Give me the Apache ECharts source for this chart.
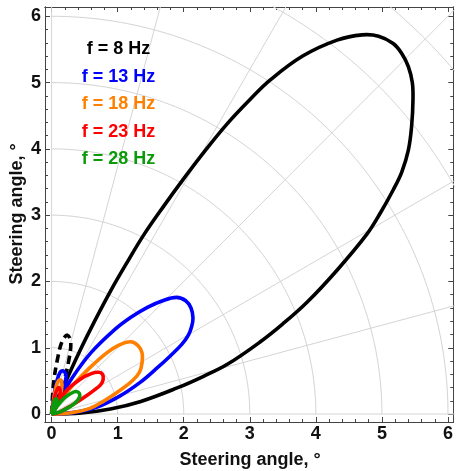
<!DOCTYPE html>
<html><head><meta charset="utf-8">
<script src="https://cdn.jsdelivr.net/npm/echarts@6/dist/echarts.min.js"></script>
<style>html,body{margin:0;padding:0;background:#fff}#c{width:456px;height:471px}</style>
</head><body><div id="c"></div>
<script>
// ---- data ----
const xTickValues = [0, 1, 2, 3, 4, 5, 6];
const yTickValues = [0, 1, 2, 3, 4, 5, 6];
const axisTitle = 'Steering angle, °';
const legendLabels = ['f = 8 Hz', 'f = 13 Hz', 'f = 18 Hz', 'f = 23 Hz', 'f = 28 Hz'];
const seriesColors = ['#000000', '#0000ff', '#ff8000', '#ff0000', '#0a9a0a'];
const gridRadii = [1, 2, 3, 4, 5, 6, 7, 8, 9];
const gridAnglesDeg = [0, 15, 30, 45, 60, 75, 90];

const f8Main = [[0,0],[0.12,0.27],[0.25,0.57],[0.45,1.0],[0.64,1.38],[0.9,1.87],[1.15,2.3],[1.40,2.71],[1.7,3.14],[2.0,3.55],[2.33,3.98],[2.66,4.38],[3.0,4.74],[3.31,5.04],[3.8,5.40],[4.32,5.64],[4.70,5.72],[4.95,5.70],[5.17,5.59],[5.30,5.44],[5.40,5.24],[5.46,5.0],[5.47,4.74],[5.45,4.35],[5.40,3.98],[5.30,3.65],[5.17,3.38],[4.98,3.04],[4.77,2.71],[4.32,2.17],[3.87,1.69],[3.5,1.36],[3.16,1.09],[2.66,0.75],[2.30,0.57],[1.89,0.39],[1.35,0.19],[0.89,0.075],[0.45,0.015],[0,0]];
const f8Side = [[0,0],[0.01,0.21],[0.035,0.51],[0.085,0.81],[0.16,1.10],[0.24,1.19],[0.29,1.08],[0.26,0.81],[0.19,0.51],[0.10,0.25],[0,0]];
const f13Main = [[0,0],[0.1,0.19],[0.3,0.53],[0.6,0.93],[0.95,1.27],[1.2,1.46],[1.45,1.61],[1.68,1.71],[1.89,1.76],[2.03,1.71],[2.11,1.60],[2.14,1.45],[2.12,1.32],[2.07,1.19],[1.97,1.05],[1.80,0.88],[1.58,0.68],[1.33,0.47],[1.03,0.27],[0.7,0.11],[0.35,0.025],[0,0]];
const f13Side = [[0,0],[0.03,0.25],[0.08,0.50],[0.13,0.63],[0.18,0.65],[0.22,0.57],[0.17,0.38],[0.08,0.15],[0,0]];
const f18Main = [[0,0],[0.1,0.15],[0.3,0.41],[0.58,0.70],[0.83,0.92],[1.02,1.04],[1.2,1.09],[1.31,1.03],[1.37,0.92],[1.37,0.78],[1.33,0.63],[1.23,0.51],[1.08,0.39],[0.78,0.19],[0.58,0.085],[0.3,0.02],[0,0]];
const f18Side = [[0,0],[0.03,0.22],[0.07,0.42],[0.11,0.51],[0.15,0.50],[0.15,0.36],[0.08,0.15],[0,0]];
const f23Main = [[0,0],[0.085,0.15],[0.24,0.37],[0.44,0.53],[0.6,0.61],[0.71,0.63],[0.77,0.6],[0.78,0.52],[0.74,0.44],[0.63,0.35],[0.49,0.25],[0.3,0.13],[0.12,0.03],[0,0]];
const f23Side = [[0,0],[0.03,0.18],[0.07,0.34],[0.11,0.40],[0.13,0.33],[0.09,0.15],[0,0]];
const f28Main = [[0,0],[0.06,0.09],[0.19,0.24],[0.29,0.31],[0.37,0.34],[0.42,0.31],[0.42,0.25],[0.36,0.17],[0.26,0.1],[0.12,0.03],[0,0]];
const f28Side = [[0,0],[0.02,0.12],[0.05,0.22],[0.08,0.22],[0.07,0.10],[0,0]];

// ---- build ----
const X_MIN = -0.1, X_MAX = 6.08, Y_MIN = -0.12, Y_MAX = 6.14;
const minorVals = [];
for (let i = 0; i <= 30; i++) minorVals.push(+(i * 0.2).toFixed(1));
const FONT = '"Liberation Sans", Arial, sans-serif';
const axisColor = '#444';

function axis(pos, isX, withLabel, ticks, len) {
  return {
    type: 'value', position: pos, min: isX ? X_MIN : Y_MIN, max: isX ? X_MAX : Y_MAX,
    axisLine: { show: true, onZero: false, lineStyle: { color: axisColor, width: 1 } },
    axisTick: { show: true, inside: true, length: len, customValues: ticks, lineStyle: { color: axisColor, width: 1 } },
    axisLabel: withLabel ? { show: true, customValues: ticks, margin: isX ? 3 : 4, color: '#111', fontSize: 18, fontWeight: 'bold', fontFamily: FONT } : { show: false },
    splitLine: { show: false }
  };
}

const gridSeries = [];
gridRadii.forEach(r => {
  const pts = [];
  for (let a = 0; a <= 90; a += 1) pts.push([r * Math.cos(a * Math.PI / 180), r * Math.sin(a * Math.PI / 180)]);
  gridSeries.push(pts);
});
gridAnglesDeg.forEach(a => {
  gridSeries.push([[0, 0], [12 * Math.cos(a * Math.PI / 180), 12 * Math.sin(a * Math.PI / 180)]]);
});

const series = [];
gridSeries.forEach(d => series.push({
  type: 'line', data: d, showSymbol: false, silent: true, z: 1,
  lineStyle: { color: '#d4d4d4', width: 1 }
}));
const curves = [
  [f8Main, 0, false], [f8Side, 0, true],
  [f13Main, 1, false], [f13Side, 1, false],
  [f18Main, 2, false], [f18Side, 2, false],
  [f23Main, 3, false], [f23Side, 3, false],
  [f28Main, 4, false], [f28Side, 4, false]
];
curves.forEach(([pts, ci, dashed], k) => series.push({
  type: 'custom', data: pts, z: 5 + k, silent: true,
  encode: { x: 0, y: 1 },
  renderItem: function (params, api) {
    if (params.dataIndex !== 0) return null;
    return {
      type: 'polyline',
      shape: { points: pts.map(p => api.coord(p)), smooth: 0.38 },
      style: { fill: 'none', stroke: seriesColors[ci], lineWidth: 3.6, lineDash: dashed ? [8, 5] : null, lineJoin: 'round', lineCap: 'butt' }
    };
  }
}));

const graphics = legendLabels.map((t, i) => ({
  type: 'text', x: 118.5, y: 49 + i * 27.6, z: 100,
  style: { text: t, fill: seriesColors[i], font: 'bold 18px ' + FONT, textAlign: 'center', textVerticalAlign: 'middle' }
}));
graphics.push({ type: 'text', x: 250, y: 460, style: { text: axisTitle, fill: '#111', font: 'bold 18px ' + FONT, textAlign: 'center', textVerticalAlign: 'middle' } });
graphics.push({ type: 'text', x: 17, y: 214, rotation: Math.PI / 2, style: { text: axisTitle, fill: '#111', font: 'bold 18px ' + FONT, textAlign: 'center', textVerticalAlign: 'middle' } });

const chart = echarts.init(document.getElementById('c'), null, { renderer: 'canvas' });
chart.setOption({
  animation: false,
  backgroundColor: '#fff',
  grid: { left: 45, top: 7, right: 1, bottom: 49 },
  xAxis: [axis('bottom', true, true, xTickValues, 5), axis('bottom', true, false, minorVals, 3),
          axis('top', true, false, xTickValues, 5), axis('top', true, false, minorVals, 3)],
  yAxis: [axis('left', false, true, yTickValues, 5), axis('left', false, false, minorVals, 3),
          axis('right', false, false, yTickValues, 5), axis('right', false, false, minorVals, 3)],
  series: series,
  graphic: graphics
});
</script></body></html>
